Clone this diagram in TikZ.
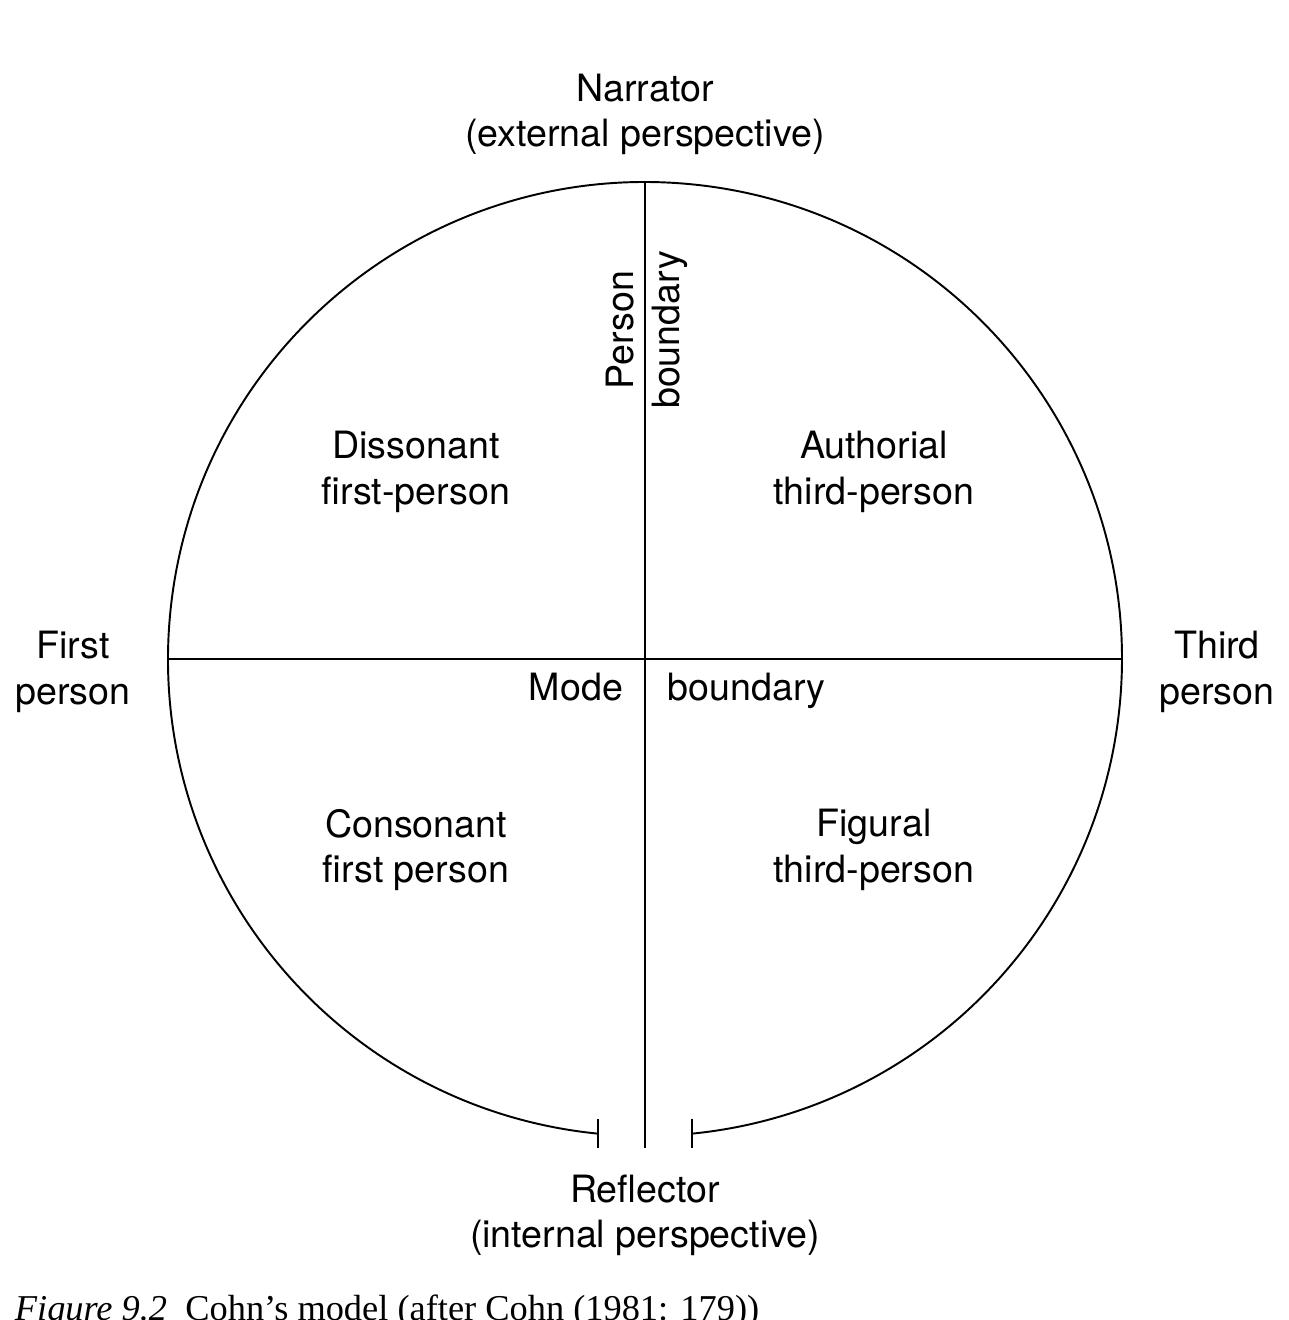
\documentclass[tikz,border=0pt]{standalone}
\usepackage{fontspec}
\setmainfont{TeX Gyre Heros}
\newfontfamily\capfont{Liberation Serif}
\tikzset{lbl/.style={align=center, inner sep=0pt, font=\fontsize{21.4}{25.8}\selectfont}}
\begin{document}
\begin{tikzpicture}[line width=1.1pt]
\useasboundingbox (-12.9,13.18) rectangle (12.88,-13.22);
\coordinate (O) at (0,0);
\coordinate (top) at (0,9.54);
\coordinate (bot) at (0,-9.78);
\coordinate (west) at (-9.54,0);
\coordinate (east) at (9.54,0);
% circle, open at the bottom
\draw (264.35:9.54) coordinate (arcL) arc (264.35:-84.35:9.54) coordinate (arcR);
\draw ([yshift=0.29cm]arcL)--([yshift=-0.29cm]arcL);
\draw ([yshift=0.29cm]arcR)--([yshift=-0.29cm]arcR);
% boundaries
\draw (top)--(bot);
\draw (west)--(east);
\node (narr) at (0,10.89)[lbl]{Narrator\\(external perspective)};
\node (refl) at (0,-11.12)[lbl]{Reflector\\(internal perspective)};
\node (fp) at (-11.44,-0.26)[lbl]{First\\person};
\node (tp) at (11.44,-0.26)[lbl]{Third\\person};
\node (diss) at (-4.58,3.74)[lbl]{Dissonant\\first-person};
\node (auth) at (4.58,3.74)[lbl]{Authorial\\third-person};
\node (cons) at (-4.58,-3.82)[lbl]{Consonant\\first person};
\node (fig) at (4.58,-3.82)[lbl]{Figural\\third-person};
\node (pers) at (-0.5,6.58)[lbl, rotate=90]{Person};
\node (pbnd) at (0.5,6.58)[lbl, rotate=90]{boundary};
\node (mode) at (-0.42,-0.82)[lbl, anchor=base east]{Mode};
\node (mbnd) at (0.44,-0.82)[lbl, anchor=base west]{boundary};
\node (cap) at (-12.62,-13.22)[anchor=base west, inner sep=0pt, font=\capfont\fontsize{20.7}{25}\selectfont]{\textit{Figure 9.2}\enspace Cohn’s model (after Cohn (1981: 179))};
\end{tikzpicture}
\end{document}
